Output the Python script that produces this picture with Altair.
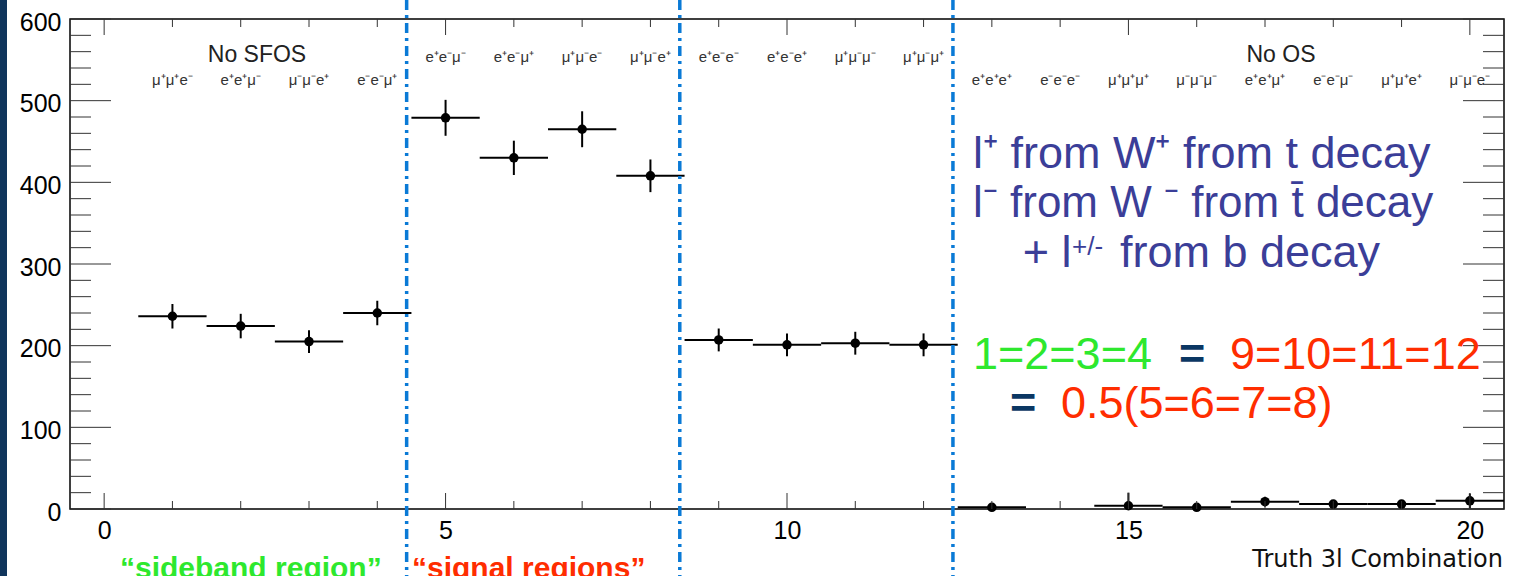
import altair as alt
import pandas as pd

# ---------------- data ----------------
bins = [1, 2, 3, 4, 5, 6, 7, 8, 9, 10, 11, 12, 13, 15, 16, 17, 18, 19, 20]
counts = [236, 224, 205, 240, 479, 430, 465, 408, 207, 201, 203, 201, 2, 4, 2, 9, 6, 6, 10]
errors = [15, 15, 14, 15, 22, 21, 22, 20, 14, 14, 14, 14, 3, 16, 3, 6, 4, 4, 9]

label_bins = list(range(1, 21))
bin_labels = ["μ⁺μ⁺e⁻", "e⁺e⁺μ⁻", "μ⁻μ⁻e⁺", "e⁻e⁻μ⁺",
              "e⁺e⁻μ⁻", "e⁺e⁻μ⁺", "μ⁺μ⁻e⁻", "μ⁺μ⁻e⁺",
              "e⁺e⁻e⁻", "e⁺e⁻e⁺", "μ⁺μ⁻μ⁻", "μ⁺μ⁻μ⁺",
              "e⁺e⁺e⁺", "e⁻e⁻e⁻", "μ⁺μ⁺μ⁺", "μ⁻μ⁻μ⁻",
              "e⁺e⁺μ⁺", "e⁻e⁻μ⁻", "μ⁺μ⁺e⁺", "μ⁻μ⁻e⁻"]

region_lines = [4.43, 8.43, 12.43]

x_major = [0, 5, 10, 15, 20]
x_minor = [1, 2, 3, 4, 6, 7, 8, 9, 11, 12, 13, 14, 16, 17, 18, 19]
y_major = [0, 100, 200, 300, 400, 500, 600]
y_minor = [20, 40, 60, 80, 120, 140, 160, 180, 220, 240, 260, 280,
           320, 340, 360, 380, 420, 440, 460, 480, 520, 540, 560, 580]

# ---------------- tables ----------------
df = pd.DataFrame({"bin": bins, "count": counts, "err": errors})
df["lo"] = df["count"] - df["err"]
df["hi"] = df["count"] + df["err"]
df["left"] = df["bin"] - 0.5
df["right"] = df["bin"] + 0.5

lab = pd.DataFrame({"bin": label_bins, "label": bin_labels})
lines = pd.DataFrame({"pos": region_lines})
xmaj = pd.DataFrame({"v": x_major})
xmin = pd.DataFrame({"v": x_minor})
ymaj = pd.DataFrame({"v": y_major})
ymin = pd.DataFrame({"v": y_minor})

W, H = 1434, 490
xs = alt.Scale(domain=[-0.5, 20.5], nice=False, zero=False)
ys = alt.Scale(domain=[0, 600], nice=False, zero=False)
xaxis = alt.Axis(values=x_major, domain=False, ticks=False, tickSize=0, grid=False,
                 labelFont="Liberation Sans", labelFontSize=25, labelColor="black",
                 labelPadding=9, labelFlush=False, labelOverlap=False, title=None)
yaxis = alt.Axis(values=y_major, domain=False, ticks=False, tickSize=0, grid=False,
                 labelFont="Liberation Sans", labelFontSize=25, labelColor="black",
                 labelPadding=9, labelOffset=3, labelFlush=False, labelOverlap=False,
                 title=None)


def X(f):
    return alt.X(f, type="quantitative", scale=xs, axis=xaxis)


def Y(f):
    return alt.Y(f, type="quantitative", scale=ys, axis=yaxis)


layers = []

# data: horizontal bin widths, error bars, markers
layers.append(alt.Chart(df).mark_rule(color="black", strokeWidth=2).encode(
    x=X("left"), x2="right", y=Y("count")))
layers.append(alt.Chart(df).mark_rule(color="black", strokeWidth=2, clip=True).encode(
    x=X("bin"), y=Y("lo"), y2="hi"))
layers.append(alt.Chart(df).mark_circle(color="black", size=90, opacity=1).encode(
    x=X("bin"), y=Y("count")))

# ROOT-style inward ticks on all four sides
tick_col = "#333333"
for d, ln in ((xmaj, 16), (xmin, 8)):
    layers.append(alt.Chart(d).mark_rule(color=tick_col, strokeWidth=1).encode(
        x=X("v"), y=alt.value(H), y2=alt.value(H - ln)))
    layers.append(alt.Chart(d).mark_rule(color=tick_col, strokeWidth=1).encode(
        x=X("v"), y=alt.value(0), y2=alt.value(ln)))
for d, ln in ((ymaj, 41), (ymin, 21)):
    layers.append(alt.Chart(d).mark_rule(color=tick_col, strokeWidth=1).encode(
        y=Y("v"), x=alt.value(0), x2=alt.value(ln)))
    layers.append(alt.Chart(d).mark_rule(color=tick_col, strokeWidth=1).encode(
        y=Y("v"), x=alt.value(W - ln), x2=alt.value(W)))

# small combination labels
small = dict(font="Liberation Sans", fontSize=15, color="#333333", align="center",
             baseline="alphabetic")
layers.append(alt.Chart(lab).transform_filter("datum.bin <= 4 || datum.bin >= 13")
              .mark_text(**small).encode(x=X("bin"), y=alt.value(66), text="label:N"))
layers.append(alt.Chart(lab).transform_filter("datum.bin >= 5 && datum.bin <= 12")
              .mark_text(**small).encode(x=X("bin"), y=alt.value(42.7), text="label:N"))


def txt(s, x, y, size, color, font="Liberation Sans", weight="normal", align="left"):
    return alt.Chart(pd.DataFrame({"t": [s]})).mark_text(
        font=font, fontSize=size, color=color, fontWeight=weight, align=align,
        baseline="alphabetic").encode(x=alt.value(x), y=alt.value(y), text="t:N")


layers.append(txt("No SFOS", 187, 42.7, 23, "#222222", align="center"))
layers.append(txt("No OS", 1211, 42.7, 23, "#222222", align="center"))

# region separators (dash-dot)
layers.append(alt.Chart(lines).mark_rule(color="#0a7ad6", strokeWidth=3.5,
                                         strokeDash=[10, 5, 3, 5]).encode(
    x=X("pos"), y=alt.value(-19), y2=alt.value(H + 67)))

# annotations
blue = "#3b3e98"
green = "#2ee82e"
red = "#ff2d00"
navy = "#0b3763"
layers.append(txt("l⁺ from W⁺ from t decay", 903, 148.7, 45, blue))
layers.append(txt("l⁻ from W ⁻ from t\u0304 decay", 903, 197.7, 44, blue))
layers.append(txt("+ l", 952.7, 247.7, 45, blue))
layers.append(txt("+/-", 1002, 236, 26, blue))
layers.append(txt("from b decay", 1050, 247.7, 45, blue))
layers.append(txt("1=2=3=4", 903, 350.3, 45, green))
layers.append(txt("=", 1109, 350.3, 45, navy, weight="bold"))
layers.append(txt("9=10=11=12", 1160, 350.3, 45, red))
layers.append(txt("=", 940, 399, 45, navy, weight="bold"))
layers.append(txt("0.5(5=6=7=8)", 991, 399, 45, red))

# axis title and region captions
layers.append(txt("Truth 3l Combination", 1433, 547.7, 24, "#111111",
                  font="DejaVu Sans", align="right"))
layers.append(txt("“sideband region”", 50, 559, 30, green, weight="bold"))
layers.append(txt("“signal regions”", 342, 559, 30, red, weight="bold"))

# slide border strip on the left
layers.append(alt.Chart(pd.DataFrame({"a": [1]})).mark_rect(color="#10355c").encode(
    x=alt.value(-70), x2=alt.value(-63), y=alt.value(-19), y2=alt.value(H + 67)))

chart = alt.layer(*layers).properties(
    width=W, height=H,
    padding={"left": 70, "top": 19, "right": 11, "bottom": 67},
    autosize=alt.AutoSizeParams(type="none"),
    background="white",
).configure_view(stroke="black", strokeWidth=1.5)

chart.save("out.html", embed_options={"renderer": "svg", "actions": False})
